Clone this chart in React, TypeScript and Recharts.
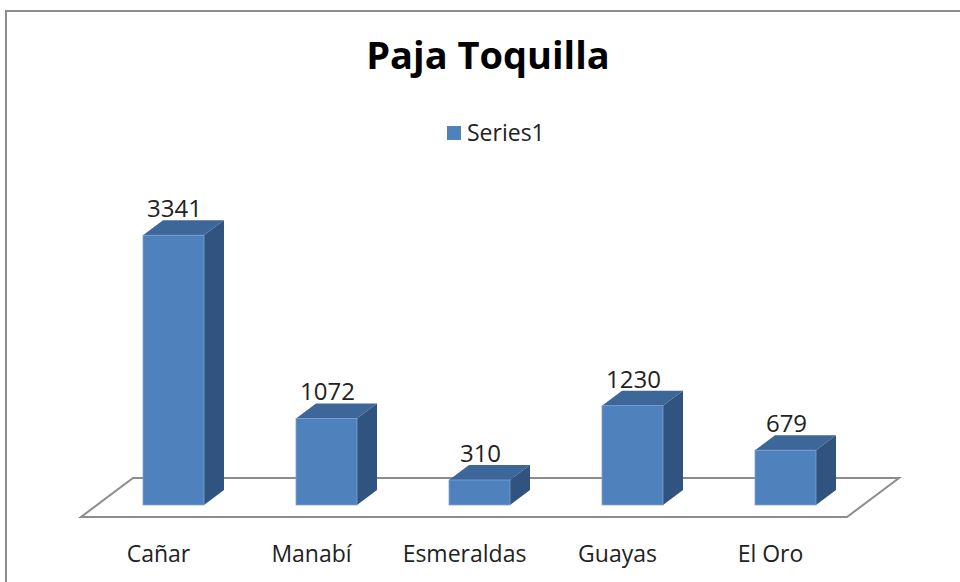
import { Bar, BarChart, Customized, LabelList, XAxis, YAxis, usePlotArea } from "recharts";

const provinces = ["Cañar", "Manabí", "Esmeraldas", "Guayas", "El Oro"];
const series1 = [3341, 1072, 310, 1230, 679];
const seriesName = "Series1";
const title = "Paja Toquilla";

const data = provinces.map((name, i) => ({ name, Series1: series1[i] }));

const FONT = "'Open Sans', sans-serif";
const DX = 20;
const DY = 15;

function Box3D(props: any) {
  const { x, y, width, height } = props;
  const w = width;
  const h = height;
  return (
    <g>
      <polygon
        points={`${x},${y} ${x + DX},${y - DY} ${x + w + DX},${y - DY} ${x + w},${y}`}
        fill="#3d6699"
      />
      <polygon
        points={`${x + w},${y} ${x + w + DX},${y - DY} ${x + w + DX},${y + h - DY} ${x + w},${y + h}`}
        fill="#30537f"
      />
      <rect x={x} y={y} width={w} height={h} fill="#4f81bd" stroke="#7da2d0" strokeWidth={0.8} />
    </g>
  );
}

function Floor() {
  const area = usePlotArea();
  if (!area) return null;
  const left = area.x;
  const right = area.x + area.width;
  const base = area.y + area.height;
  const pts = [
    [left - 16, base + 12],
    [right - 15, base + 12],
    [right + 37, base - 27],
    [left + 36, base - 27],
  ]
    .map((p) => p.join(","))
    .join(" ");
  return <polygon points={pts} fill="#fff" stroke="#8c8c8c" strokeWidth={2} />;
}

function ValueLabel(props: any) {
  const { x, y, width, value } = props;
  return (
    <text x={x + width / 2 + 1} y={y - 18} textAnchor="middle" fontFamily={FONT} fontSize={24} fill="#222">
      {value}
    </text>
  );
}

function CategoryTick(props: any) {
  const { x, y, payload } = props;
  return (
    <text x={x - 15} y={y + 49} textAnchor="middle" fontFamily={FONT} fontSize={23} fill="#222">
      {payload.value}
    </text>
  );
}

export default function App() {
  return (
    <div style={{ position: "fixed", left: 0, top: 0, width: 960, height: 582, background: "#fff", overflow: "hidden" }}>
      <div
        style={{
          position: "absolute",
          left: 5,
          top: 10,
          width: 1000,
          height: 700,
          border: "2px solid #8c8c8c",
        }}
      />
      <svg width={960} height={160} style={{ position: "absolute", left: 0, top: 0 }}>
        <text x={488} y={69} textAnchor="middle" fontFamily={FONT} fontWeight={700} fontSize={38} fill="#000">
          {title}
        </text>
        <rect x={447} y={126} width={14} height={14} fill="#4f81bd" />
        <text x={467} y={141} fontFamily={FONT} fontSize={23} fill="#222">
          {seriesName}
        </text>
      </svg>
      <div style={{ position: "absolute", left: 0, top: 0 }}>
        <BarChart width={960} height={582} data={data} margin={{ top: 182, right: 98, bottom: 47, left: 97 }}>
          <Customized component={<Floor />} />
          <XAxis dataKey="name" axisLine={false} tickLine={false} tick={<CategoryTick />} interval={0} />
          <YAxis hide domain={[0, 4000]} />
          <Bar dataKey="Series1" name={seriesName} fill="#4f81bd" barSize={61} shape={<Box3D />} isAnimationActive={false}>
            <LabelList dataKey="Series1" content={<ValueLabel />} />
          </Bar>
        </BarChart>
      </div>
    </div>
  );
}
